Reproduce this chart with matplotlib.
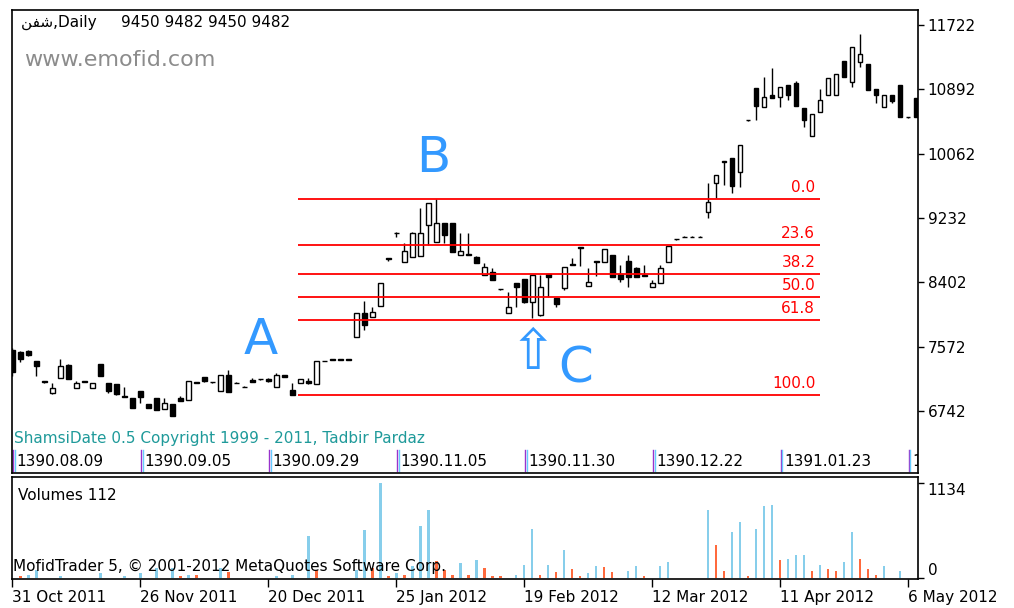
import matplotlib
matplotlib.use('Agg')
import matplotlib.pyplot as plt

plt.rcParams['font.family'] = ['DejaVu Sans']

# daily candles (bar index 0 = 31 Oct 2011)
opens = [7527, 7501, 7514, 7385, 7126, 6971, 7165, 7333, 7036, 7126,
         7036, 7346, 7101, 7088, 6933, 6907, 6997, 6829, 6907, 6765,
         6829, 6907, 6881, 7114, 7178, 7114, 6997, 7204, 7105, 7054,
         7140, 7152, 7150, 7049, 7204, 7010, 7101, 7126, 7088, 7385,
         7406, 7406, 7406, 7694, 8004, 7953, 8095, 8714, 9043, 8662,
         8727, 8740, 9140, 8921, 9166, 9166, 8753, 8765, 8727, 8494,
         8533, 8314, 8004, 8391, 8443, 8146, 7978, 8507, 8198, 8327,
         8636, 8856, 8353, 8675, 8662, 8753, 8507, 8675, 8585, 8494,
         8340, 8391, 8662, 8960, 8992, 8992, 8992, 9308, 9682, 9966,
         10005, 9824, 10496, 10909, 10664, 10819, 10793, 10948, 10974, 10651,
         10289, 10599, 10819, 10819, 11258, 10986, 11245, 11219, 10896, 10664,
         10819, 10948, 10535, 10780]
highs = [7552, 7514, 7527, 7390, 7130, 7101, 7410, 7340, 7126, 7130,
         7101, 7350, 7105, 7092, 7049, 6912, 7002, 6833, 6912, 6907,
         6835, 6933, 7130, 7120, 7182, 7118, 7208, 7268, 7110, 7058,
         7160, 7156, 7165, 7230, 7210, 7101, 7155, 7165, 7390, 7390,
         7410, 7410, 7410, 8008, 8159, 8082, 8395, 8718, 9048, 8908,
         9048, 9360, 9428, 9476, 9170, 9170, 9043, 9043, 8740, 8649,
         8585, 8318, 8275, 8395, 8448, 8498, 8494, 8512, 8202, 8603,
         8714, 8860, 8585, 8680, 8834, 8758, 8623, 8753, 8598, 8623,
         8430, 8623, 8873, 8965, 8996, 8996, 8996, 9682, 9790, 9970,
         10010, 10178, 10500, 10915, 11051, 11167, 10926, 10952, 11000, 10656,
         10578, 10896, 11042, 11094, 11262, 11442, 11606, 11224, 10900, 10823,
         10823, 10952, 10540, 10785]
lows = [7191, 7372, 7455, 7191, 7100, 6965, 7160, 7148, 7030, 7118,
        7030, 7185, 6971, 6952, 6915, 6772, 6842, 6772, 6748, 6760,
        6672, 6865, 6876, 7100, 7120, 7105, 6992, 6980, 7098, 7046,
        7110, 7145, 7120, 7045, 7175, 6945, 7098, 7088, 7085, 7380,
        7400, 7400, 7400, 7690, 7785, 7948, 8090, 8675, 8992, 8658,
        8722, 8735, 8882, 8916, 8908, 8786, 8748, 8748, 8645, 8490,
        8425, 8305, 8000, 8082, 8140, 7940, 7972, 8211, 8082, 8301,
        8620, 8611, 8348, 8481, 8658, 8465, 8404, 8340, 8465, 8478,
        8335, 8386, 8658, 8950, 8985, 8985, 8985, 9230, 9489, 9657,
        9554, 9631, 10488, 10496, 10660, 10775, 10664, 10754, 10672, 10405,
        10284, 10595, 10815, 10815, 11045, 10922, 11180, 10878, 10715, 10660,
        10715, 10530, 10528, 10530]
closes = [7243, 7410, 7462, 7320, 7108, 7036, 7320, 7152, 7101, 7120,
          7095, 7191, 6997, 6958, 6920, 6778, 6920, 6778, 6752, 6842,
          6678, 6868, 7126, 7105, 7126, 7108, 7204, 6984, 7100, 7050,
          7114, 7148, 7126, 7204, 7178, 6950, 7152, 7101, 7385, 7383,
          7404, 7404, 7404, 8004, 7849, 8017, 8391, 8705, 9035, 8804,
          9043, 9043, 9424, 9166, 9017, 8791, 8804, 8753, 8649, 8598,
          8430, 8308, 8082, 8340, 8146, 8494, 8340, 8469, 8120, 8598,
          8623, 8843, 8404, 8662, 8830, 8469, 8443, 8469, 8469, 8481,
          8391, 8585, 8869, 8955, 8990, 8990, 8990, 9437, 9786, 9955,
          9644, 10173, 10492, 10677, 10793, 10780, 10922, 10819, 10677, 10496,
          10573, 10754, 11038, 11090, 11051, 11438, 11348, 10883, 10819, 10819,
          10741, 10535, 10532, 10535]

volumes = [0, 20, 40, 100, 0, 0, 20, 0, 0, 0,
           0, 60, 0, 0, 20, 0, 60, 0, 120, 0,
           120, 20, 40, 40, 0, 0, 120, 70, 0, 0,
           0, 0, 0, 20, 0, 40, 0, 500, 100, 0,
           0, 0, 0, 100, 570, 120, 1134, 20, 60, 40,
           140, 617, 808, 200, 100, 40, 180, 40, 220, 120,
           20, 20, 0, 40, 160, 585, 40, 160, 70, 330,
           110, 20, 60, 140, 135, 70, 0, 90, 140, 20,
           0, 140, 190, 0, 0, 0, 0, 808, 400, 90,
           545, 665, 20, 585, 856, 876, 211, 227, 279, 280,
           90, 160, 110, 90, 190, 545, 230, 110, 40, 140,
           0, 90, 0, 0]
# u = volume up (blue), d = volume down (orange)
vol_dir = ['d', 'd', 'u', 'u', 'd', 'd', 'u', 'd', 'd', 'd',
           'd', 'u', 'd', 'd', 'u', 'd', 'u', 'd', 'u', 'd',
           'u', 'd', 'u', 'd', 'd', 'd', 'u', 'd', 'd', 'd',
           'd', 'd', 'd', 'u', 'd', 'u', 'd', 'u', 'd', 'd',
           'd', 'd', 'd', 'u', 'u', 'd', 'u', 'd', 'u', 'd',
           'u', 'u', 'u', 'd', 'd', 'd', 'u', 'd', 'u', 'd',
           'd', 'd', 'd', 'u', 'u', 'u', 'd', 'u', 'd', 'u',
           'd', 'd', 'u', 'u', 'd', 'd', 'd', 'u', 'u', 'd',
           'd', 'u', 'u', 'd', 'd', 'd', 'd', 'u', 'd', 'd',
           'u', 'u', 'd', 'u', 'u', 'u', 'd', 'u', 'u', 'u',
           'd', 'u', 'd', 'd', 'u', 'u', 'd', 'd', 'd', 'u',
           'd', 'u', 'd', 'd']

fib_levels = [0.0, 23.6, 38.2, 50.0, 61.8, 100.0]
fib_high = 9476
fib_low = 6945

price_ticks = [6742, 7572, 8402, 9232, 10062, 10892, 11722]
date_ticks = [0, 16, 32, 48, 64, 80, 96, 112]
date_labels = ['31 Oct 2011', '26 Nov 2011', '20 Dec 2011', '25 Jan 2012',
               '19 Feb 2012', '12 Mar 2012', '11 Apr 2012', '6 May 2012']
shamsi_labels = ['1390.08.09', '1390.09.05', '1390.09.29', '1390.11.05',
                 '1390.11.30', '1390.12.22', '1391.01.23', '1']

W, H = 1014, 608


def fxy(x, y):
    return x / W, 1 - y / H


fig = plt.figure(figsize=(W / 100, H / 100), dpi=100)
ax = fig.add_axes([12 / W, 135 / H, 906 / W, 463 / H])
axv = fig.add_axes([12 / W, 29 / H, 906 / W, 102 / H])

xs = list(range(len(opens)))

# candles
ax.vlines(xs, lows, highs, color='black', lw=1.0, zorder=2)
body_col = ['white' if c > o else 'black' for o, c in zip(opens, closes)]
heights = [c - o for o, c in zip(opens, closes)]
ax.bar(xs, heights, bottom=opens, width=0.6, color=body_col,
       edgecolor='black', linewidth=1.0, zorder=3)

ax.set_xlim(-0.05, 113.25)
ax.set_ylim(5939, 11916)
ax.set_xticks([])
ax.yaxis.tick_right()
ax.set_yticks(price_ticks)
ax.set_yticklabels([str(p) for p in price_ticks])
ax.tick_params(axis='y', direction='out', length=4, width=1, labelsize=11, pad=3)
for s in ax.spines.values():
    s.set_linewidth(1.2)

# fibonacci retracement
for lv in fib_levels:
    p = fib_high - (fib_high - fib_low) * lv / 100
    ax.hlines(p, 35.75, 101, color='#ff0000', lw=1.3, zorder=4)
    ax.annotate('%.1f' % lv, (100.4, p), xytext=(0, 3), textcoords='offset points',
                ha='right', va='bottom', color='#ff0000', fontsize=11)

# wave letters
ax.text(31, 7656, 'A', color='#3399ff', fontsize=36, ha='center', va='center')
ax.text(52.6, 10005, 'B', color='#3399ff', fontsize=36, ha='center', va='center')
ax.text(70.4, 7294, 'C', color='#3399ff', fontsize=36, ha='center', va='center')
ax.text(65.1, 7470, '\u21e7', color='#3399ff', fontsize=40, ha='center', va='center')

# shamsi date row
tr = ax.get_xaxis_transform()
for x, lab in zip(date_ticks, shamsi_labels):
    ax.plot([x + 0.1, x + 0.1], [0.005, 0.05], color='#9933cc', lw=1, transform=tr)
    ax.plot([x + 0.3, x + 0.3], [0.005, 0.05], color='#66ccff', lw=1, transform=tr)
    ax.text(x + 0.55, 0.025, lab, transform=tr, fontsize=11, ha='left', va='center',
            clip_on=True)

# volumes
vcol = ['#87ceeb' if d == 'u' else '#ff6a3d' for d in vol_dir]
axv.bar(xs, volumes, width=0.33, color=vcol, zorder=2)
axv.set_xlim(-0.05, 113.25)
axv.set_ylim(-10, 1206)
axv.yaxis.tick_right()
axv.set_yticks([0, 1134])
axv.set_yticklabels(['0', '1134'])
for lbl, va in zip(axv.get_yticklabels(), ['bottom', 'top']):
    lbl.set_va(va)
axv.tick_params(axis='y', direction='out', length=4, width=1, labelsize=11, pad=3)
axv.set_xticks(date_ticks)
axv.set_xticklabels(date_labels, ha='left')
axv.tick_params(axis='x', direction='out', length=6, width=1, labelsize=11, pad=2)
for s in axv.spines.values():
    s.set_linewidth(1.2)

# texts
fig.text(*fxy(21, 22), '\ufee6\ufed4\ufeb7,Daily     9450 9482 9450 9482',
         fontsize=11, va='center', ha='left')
fig.text(*fxy(24, 60), 'www.emofid.com', fontsize=16, color='#8c8c8c',
         va='center', ha='left')
fig.text(*fxy(14, 438), 'ShamsiDate 0.5 Copyright 1999 - 2011, Tadbir Pardaz',
         fontsize=11, color='#1f9a9a', va='center', ha='left')
fig.text(*fxy(18, 495), 'Volumes 112', fontsize=11, va='center', ha='left')
fig.text(*fxy(13, 566), 'MofidTrader 5, \u00a9 2001-2012 MetaQuotes Software Corp.',
         fontsize=11, va='center', ha='left')

fig.savefig('out.png', dpi=100)
